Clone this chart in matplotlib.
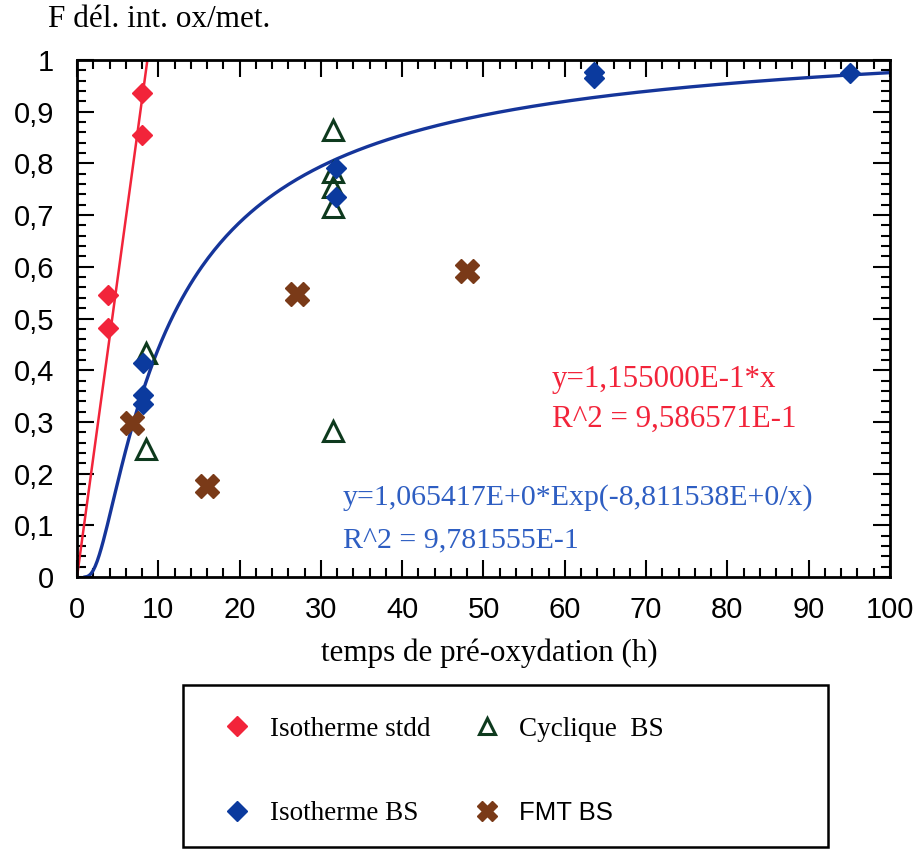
import numpy as np
import matplotlib
matplotlib.use("Agg")
import matplotlib.pyplot as plt
from matplotlib.ticker import MultipleLocator, FuncFormatter
from matplotlib.patches import Rectangle

# ---- data ----
iso_stdd_x = [3.8, 3.8, 8.0, 8.0]
iso_stdd_y = [0.545, 0.482, 0.936, 0.855]

iso_bs_x = [8.1, 8.1, 8.1, 31.8, 31.8, 63.6, 63.6, 95.1]
iso_bs_y = [0.413, 0.352, 0.335, 0.791, 0.735, 0.977, 0.965, 0.975]

cyc_bs_x = [8.5, 8.5, 31.5, 31.5, 31.5, 31.5, 31.5]
cyc_bs_y = [0.433, 0.248, 0.865, 0.783, 0.755, 0.716, 0.282]

fmt_bs_x = [6.8, 16.0, 27.0, 48.0]
fmt_bs_y = [0.298, 0.176, 0.547, 0.592]

lin_slope = 1.155000e-1
exp_a = 1.065417
exp_b = -8.811538

x_ticks = [0, 10, 20, 30, 40, 50, 60, 70, 80, 90, 100]
y_ticks = [0, 0.1, 0.2, 0.3, 0.4, 0.5, 0.6, 0.7, 0.8, 0.9, 1.0]

labels = ["Isotherme stdd", "Isotherme BS", "Cyclique  BS", "FMT BS"]

# ---- colours ----
RED = "#F2243A"
BLUE_LINE = "#15359A"
BLUE_PT = "#0B3A9E"
BLUE_TXT = "#2E5EC2"
GREEN = "#0E3A1E"
BROWN = "#7A3A18"

SERIF = ["Liberation Serif", "DejaVu Serif"]
SANS = ["Liberation Sans", "DejaVu Sans"]

fig = plt.figure(figsize=(9.2, 8.49), dpi=100)
ax = fig.add_axes([77/920, 1-577/849, (890-77)/920, (577-60)/849])

# fit lines
xl = np.linspace(0, 9, 50)
ax.plot(xl, lin_slope*xl, color=RED, lw=1.8, zorder=2)
xe = np.linspace(1.0, 100, 400)
ax.plot(xe, exp_a*np.exp(exp_b/xe), color=BLUE_LINE, lw=2.4, zorder=2)

h1, = ax.plot(iso_stdd_x, iso_stdd_y, ls="none", marker="D", ms=10, color=RED, mec=RED, zorder=4)
h2, = ax.plot(iso_bs_x, iso_bs_y, ls="none", marker="D", ms=10, color=BLUE_PT, mec=BLUE_PT, zorder=5)
h3, = ax.plot(cyc_bs_x, cyc_bs_y, ls="none", marker="^", ms=15, mfc="none", mec=GREEN, mew=2.2, zorder=3)
h4, = ax.plot(fmt_bs_x, fmt_bs_y, ls="none", marker="X", ms=17, color=BROWN, mec=BROWN, zorder=4)

ax.set_xlim(0, 100)
ax.set_ylim(0, 1)
ax.set_xticks(x_ticks)
ax.set_yticks(y_ticks)
ax.xaxis.set_minor_locator(MultipleLocator(2))
ax.yaxis.set_minor_locator(MultipleLocator(0.02))
ax.yaxis.set_major_formatter(FuncFormatter(lambda v, p: ("%g" % round(v, 2)).replace(".", ",")))
ax.tick_params(which="both", direction="in", top=True, right=True, width=1.5, color="black")
ax.tick_params(which="major", length=12)
ax.tick_params(which="minor", length=6.5)
ax.tick_params(axis="x", which="major", pad=14, labelsize=21)
ax.tick_params(axis="y", which="major", pad=16.5, labelsize=21)
for lab in ax.get_xticklabels() + ax.get_yticklabels():
    lab.set_family(SANS)
for s in ax.spines.values():
    s.set_linewidth(2.0)

ax.set_xlabel("temps de pré-oxydation (h)", family=SERIF, fontsize=22.3, labelpad=10)
ax.xaxis.label.set_x(0.507)
fig.text(48/920, 1-5/849, "F dél. int. ox/met.", family=SERIF, fontsize=22.5, ha="left", va="top")

# equation annotations
def fx(px):
    return (px - 77) / (890 - 77)
def fy(py):
    return (577 - py) / (577 - 60)
ax.text(fx(552), fy(387), "y=1,155000E-1*x", color=RED, family=SERIF, fontsize=22.3, va="baseline", transform=ax.transAxes)
ax.text(fx(552), fy(427), "R^2 = 9,586571E-1", color=RED, family=SERIF, fontsize=22.3, va="baseline", transform=ax.transAxes)
ax.text(fx(343), fy(505), "y=1,065417E+0*Exp(-8,811538E+0/x)", color=BLUE_TXT, family=SERIF, fontsize=21.5, va="baseline", transform=ax.transAxes)
ax.text(fx(343), fy(547), "R^2 = 9,781555E-1", color=BLUE_TXT, family=SERIF, fontsize=21.5, va="baseline", transform=ax.transAxes)

# legend box
fig.patches.append(Rectangle((183/920, 1-847/849), (828-183)/920, (847-685)/849,
                             transform=fig.transFigure, fill=False, ec="black", lw=1.8))
leg = fig.legend([h1, h2, h3, h4], labels, ncol=2, frameon=False,
                 loc="upper left", bbox_to_anchor=(210/920, 1-703/849),
                 borderpad=0, handlelength=1.0, handletextpad=0.7, columnspacing=1.6,
                 labelspacing=2.2, prop={"family": SERIF, "size": 19.5}, markerscale=1.0)
for t in leg.get_texts():
    if t.get_text() == "FMT BS":
        t.set_family(SANS)
        t.set_fontsize(18.5)
leg.legend_handles[2].set_markersize(12)
leg.legend_handles[3].set_markersize(15)

fig.savefig("out.png", dpi=100)
